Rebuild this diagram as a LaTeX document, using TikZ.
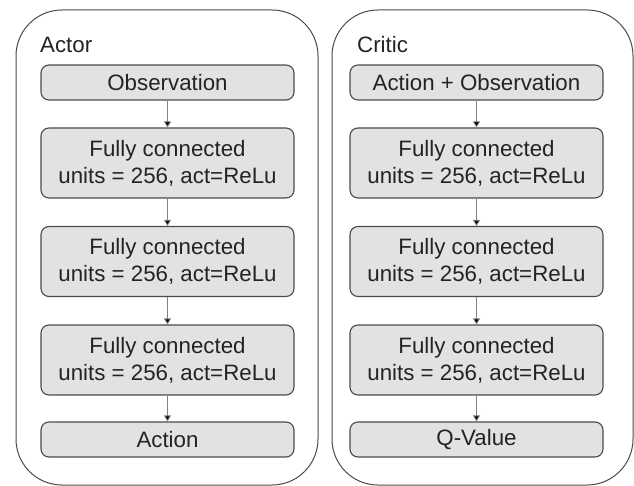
\documentclass[tikz,border=0pt]{standalone}
\usepackage{fontspec}
\setmainfont{Liberation Sans}
\usetikzlibrary{arrows.meta}
\definecolor{boxfill}{RGB}{226,226,226}
\definecolor{boxline}{RGB}{75,75,75}
\definecolor{txt}{RGB}{35,35,35}
\begin{document}
\begin{tikzpicture}[x=1pt,y=-1pt,
  panel/.style={draw=boxline, line width=1pt, rounded corners=46pt},
  layer/.style={draw=boxline, fill=boxfill, line width=1.1pt, rounded corners=8pt,
    minimum width=253pt, inner sep=0pt, align=center, text=txt,
    font=\fontsize{22.3}{27}\selectfont},
  title/.style={anchor=west, text=txt, inner sep=0pt, font=\fontsize{22.3}{27}\selectfont},
  flow/.style={draw=boxline!70, line width=0.8pt, -{Triangle[length=6pt,width=7pt,fill=black]}}]
\useasboundingbox (0,0) rectangle (634,486);

% two panels
\draw[panel] (16,10) rectangle (318,485);
\draw[panel] (332,10) rectangle (633,485);
\node[title] (actor) at (40,45) {Actor};
\node[title] (critic) at (357,45) {Critic};

% actor network
\node[layer, minimum height=35pt] (a0) at (167.5,82.5) {Observation};
\node[layer, minimum height=70pt] (a1) at (167.5,163) {Fully connected\\units = 256, act=ReLu};
\node[layer, minimum height=70pt] (a2) at (167.5,261.5) {Fully connected\\units = 256, act=ReLu};
\node[layer, minimum height=70pt] (a3) at (167.5,360) {Fully connected\\units = 256, act=ReLu};
\node[layer, minimum height=35pt] (a4) at (167.5,439.5) {Action};

% critic network
\node[layer, minimum height=35pt] (c0) at (476.5,82.5) {Action + Observation};
\node[layer, minimum height=70pt] (c1) at (476.5,163) {Fully connected\\units = 256, act=ReLu};
\node[layer, minimum height=70pt] (c2) at (476.5,261.5) {Fully connected\\units = 256, act=ReLu};
\node[layer, minimum height=70pt] (c3) at (476.5,360) {Fully connected\\units = 256, act=ReLu};
\node[layer, minimum height=35pt] (c4) at (476.5,439.5) {Q-Value};

\foreach \p in {a,c}{
  \draw[flow] (\p0) -- (\p1);
  \draw[flow] (\p1) -- (\p2);
  \draw[flow] (\p2) -- (\p3);
  \draw[flow] (\p3) -- (\p4);
}
\end{tikzpicture}
\end{document}
